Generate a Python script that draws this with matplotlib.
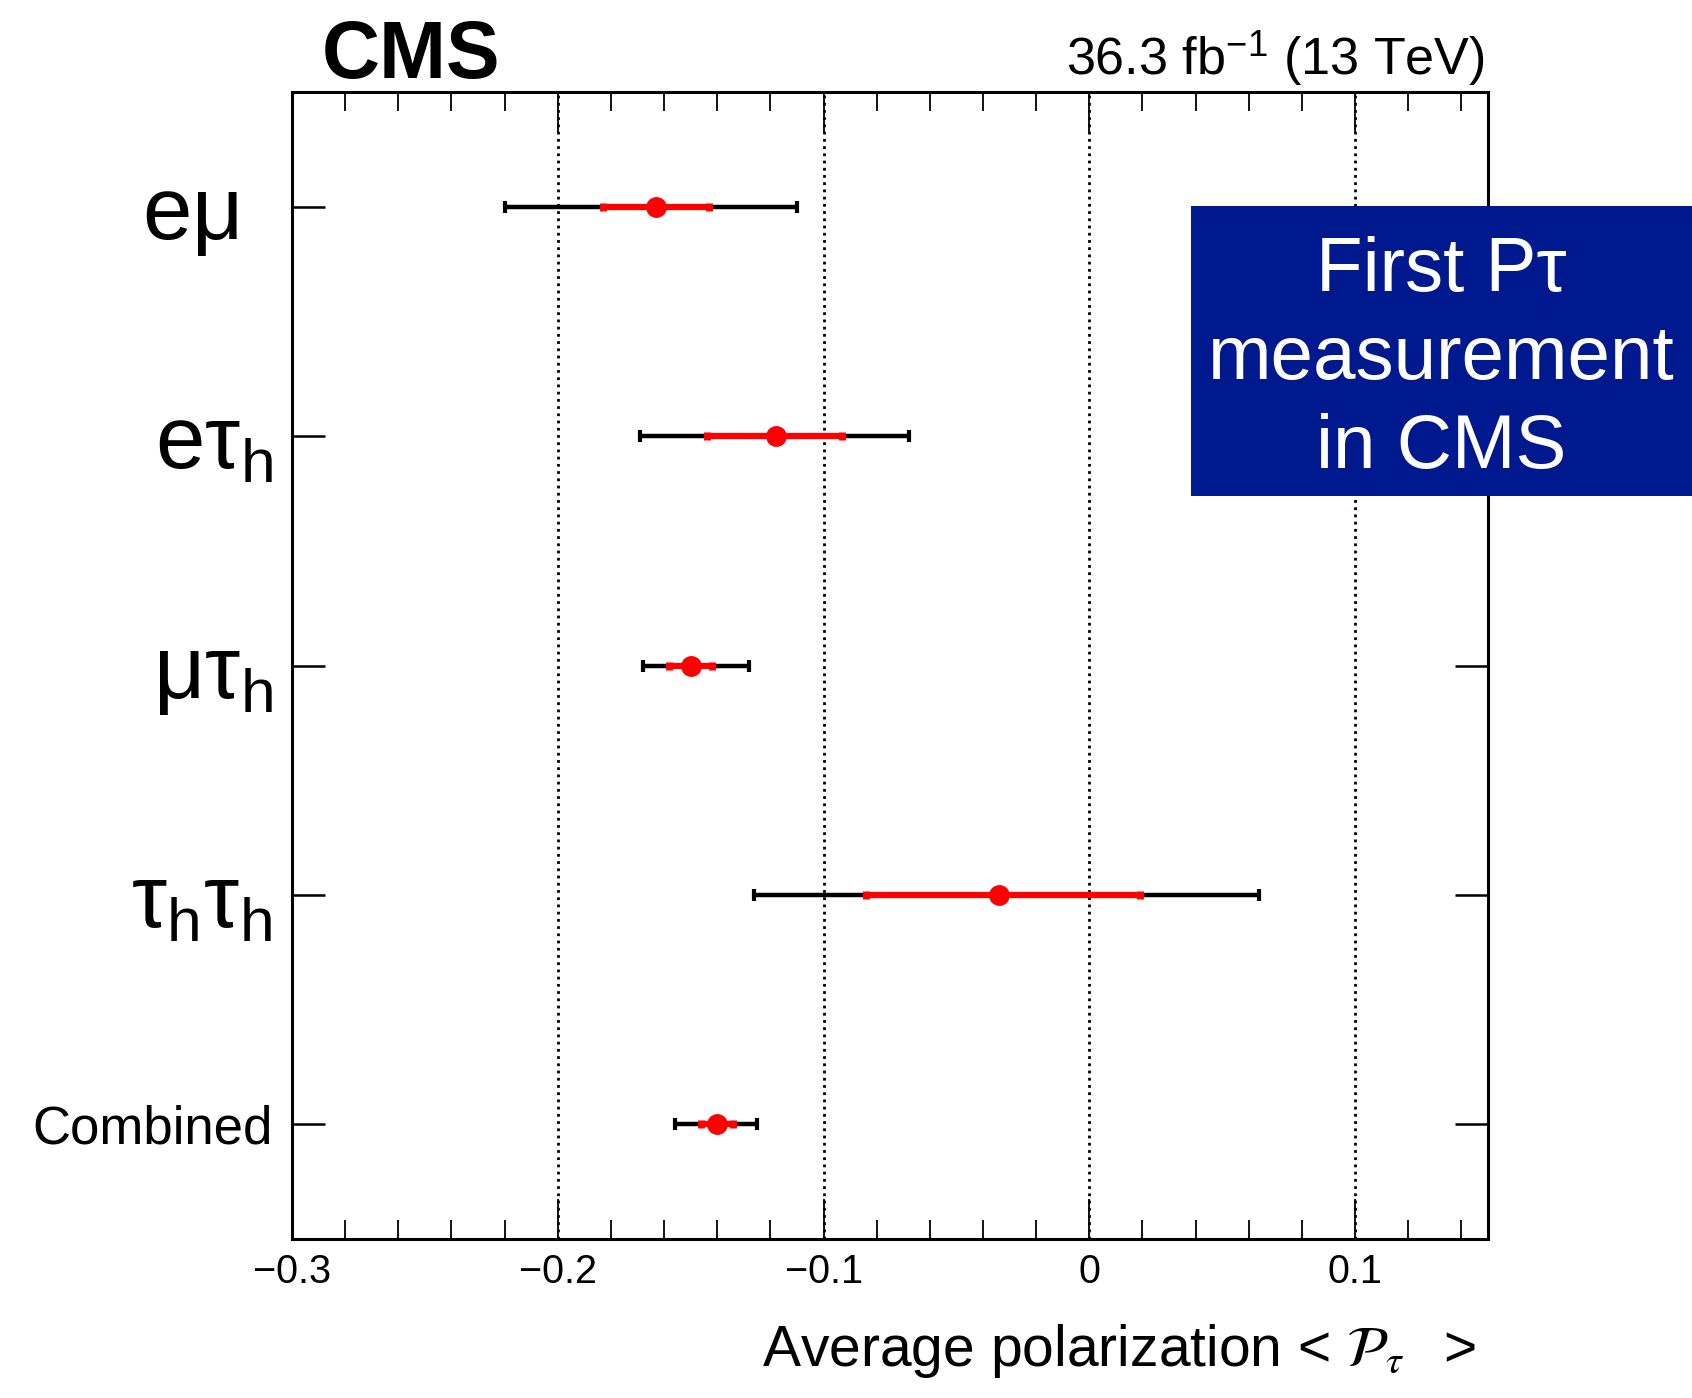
import matplotlib
matplotlib.use('Agg')
import matplotlib.pyplot as plt
from matplotlib.patches import Rectangle
from matplotlib.ticker import MultipleLocator, FuncFormatter

plt.rcParams['font.family'] = ['Liberation Sans', 'DejaVu Sans']
plt.rcParams['mathtext.fontset'] = 'custom'
plt.rcParams['mathtext.rm'] = 'Liberation Sans'
plt.rcParams['mathtext.it'] = 'Liberation Sans:italic'
plt.rcParams['mathtext.bf'] = 'Liberation Sans:bold'

# canais de decaimento (de cima para baixo)
canais = [r'$\mathrm{e\mu}$',
          r'$\mathrm{e\tau}_{\mathrm{h}}$',
          r'$\mathrm{\mu\tau}_{\mathrm{h}}$',
          r'$\mathrm{\tau}_{\mathrm{h}}\mathrm{\tau}_{\mathrm{h}}$',
          'Combined']
posicoes = [5, 4, 3, 2, 1]

# polarizacao media e incertezas
centro = [-0.163, -0.118, -0.150, -0.034, -0.140]
stat_baixo = [0.020, 0.026, 0.008, 0.050, 0.006]
stat_cima = [0.020, 0.025, 0.008, 0.053, 0.006]
total_baixo = [0.057, 0.051, 0.018, 0.092, 0.016]
total_cima = [0.053, 0.050, 0.022, 0.098, 0.015]

fig = plt.figure(figsize=(16.92, 13.98), dpi=100)
ax = fig.add_axes([0.1726, 0.1137, 0.7068, 0.8205])

# incerteza total (preto) e estatistica (vermelho)
ax.errorbar(centro, posicoes, xerr=[total_baixo, total_cima], fmt='none',
            ecolor='black', elinewidth=3.2, capsize=4, capthick=3, zorder=3)
ax.errorbar(centro, posicoes, xerr=[stat_baixo, stat_cima], fmt='o',
            color='red', markersize=14, ecolor='red', elinewidth=4.5,
            capsize=3, capthick=5, zorder=4)

ax.set_xlim(-0.3, 0.15)
ax.set_ylim(0.5, 5.5)

ax.xaxis.set_major_locator(MultipleLocator(0.1))
ax.xaxis.set_minor_locator(MultipleLocator(0.02))
ax.xaxis.set_major_formatter(FuncFormatter(
    lambda v, p: ('%g' % round(v, 2)).replace('-', '\u2212')))
ax.tick_params(axis='x', which='major', direction='in', length=29, width=1.3,
               top=True, labelsize=28.5, pad=10)
ax.tick_params(axis='x', which='minor', direction='in', length=14, width=1.3,
               top=True)

ax.set_yticks(posicoes)
ax.set_yticklabels(canais)
ax.tick_params(axis='y', which='major', direction='in', length=24, width=1.8,
               right=True, labelsize=64, pad=14)
ax.yaxis.get_major_ticks()[0].set_pad(39)
ax.get_yticklabels()[4].set_fontsize(38)

ax.grid(axis='x', which='major', linestyle=(0, (1, 1.6)), color='black',
        linewidth=2)
for lado in ax.spines.values():
    lado.set_linewidth(2.2)

ax.set_xlabel(r'Average polarization < $\mathcal{P}_{\tau}\;\;$ >', fontsize=41,
              math_fontfamily='stix')
ax.xaxis.set_label_coords(0.99, -0.098)
ax.xaxis.label.set_horizontalalignment('right')
ax.xaxis.label.set_verticalalignment('center')

ax.text(0.025, 1.012, 'CMS', transform=ax.transAxes, fontsize=58,
        fontweight='bold', ha='left', va='baseline')
ax.text(0.997, 1.0143, r'36.3 fb$^{-1}$ (13 TeV)', transform=ax.transAxes,
        fontsize=37.5, ha='right', va='baseline')

# caixa azul
caixa = Rectangle((0.704, 0.645), 0.296, 0.208, transform=fig.transFigure,
                  facecolor='#01198F', edgecolor='none', zorder=10)
fig.add_artist(caixa)
fig.text(0.852, 0.7425, 'First P\u03c4\nmeasurement\nin CMS', color='white',
         fontsize=55, ha='center', va='center', linespacing=1.325, zorder=11)

fig.savefig('out.png', dpi=100)
